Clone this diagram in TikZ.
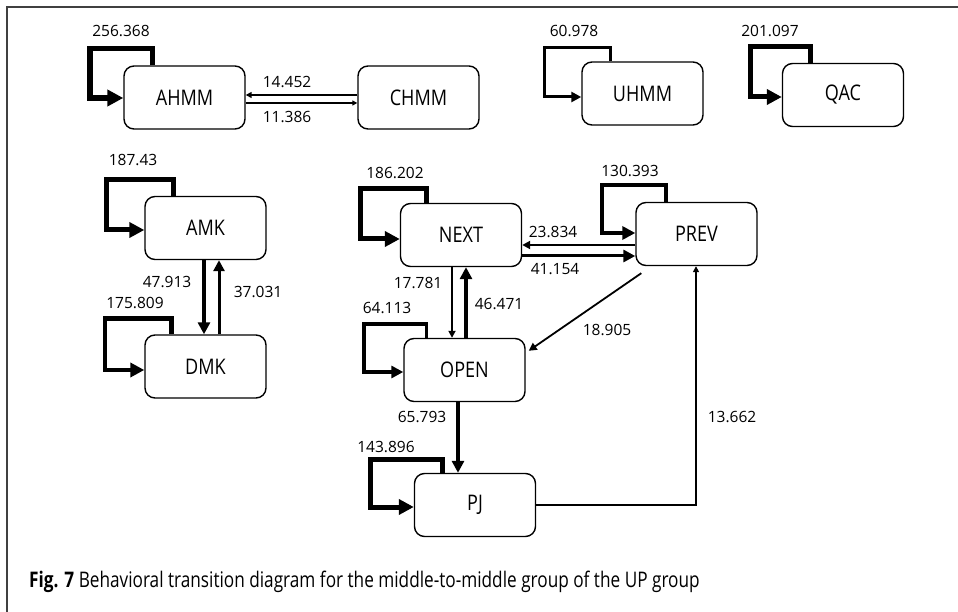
\documentclass[tikz,border=0pt]{standalone}
\usepackage{fontspec}
\setmainfont{Open Sans}
\newfontfamily\nodefont{Open Sans}[FakeStretch=0.84]
\newfontfamily\capfont{Open Sans}[FakeStretch=0.8]
\usetikzlibrary{arrows.meta}

\begin{document}
\begin{tikzpicture}[x=1pt,y=-1pt,
  state/.style={draw, rounded corners=10pt, line width=1.4pt,
    minimum width=121pt, minimum height=63pt, inner sep=0pt,
    font=\nodefont\fontsize{21.5}{25}\selectfont},
  num/.style={inner sep=0pt, font=\fontsize{15.5}{18}\selectfont},
  flow/.style 2 args={line width=#1, line join=miter,
    -{Triangle[length=#2, width=#2]}}]

\useasboundingbox (0,0) rectangle (958,612);

% frame
\draw[line width=1.3pt, black!75] (958,7) -- (7,7) -- (7,612);

% states
\node[state] (AHMM) at (184.5,97.5) {AHMM};
\node[state] (CHMM) at (418.5,97.5) {CHMM};
\node[state] (UHMM) at (642.5,93.5) {UHMM};
\node[state] (QAC)  at (843,95)     {QAC};
\node[state] (AMK)  at (205.5,228)  {AMK};
\node[state] (DMK)  at (205.5,366.5){DMK};
\node[state] (NEXT) at (461,235)    {NEXT};
\node[state] (PREV) at (696.5,234)  {PREV};
\node[state] (OPEN) at (464.5,370)  {OPEN};
\node[state] (PJ)   at (475,505)    {PJ};

% self transitions
\draw[flow={5.5pt}{16pt}] ([xshift=29pt]AHMM.north west) -- ++(0,-17) -| (90,98) -- (AHMM.west |- 0,98);
\draw[flow={3pt}{10pt}] ([xshift=29pt]UHMM.north west) -- ++(0,-14) -| (544,97) -- (UHMM.west |- 0,97);
\draw[flow={5pt}{15pt}] ([xshift=29pt]QAC.north west) -- ++(0,-16) -| (750,97) -- (QAC.west |- 0,97);
\draw[flow={5pt}{15pt}] ([xshift=29pt]AMK.north west) -- ++(0,-16) -| (106,230) -- (AMK.west |- 0,230);
\draw[flow={4.5pt}{14pt}] ([xshift=27pt]DMK.north west) -- ++(0,-16) -| (105,370) -- (DMK.west |- 0,370);
\draw[flow={5pt}{15pt}] ([xshift=27pt]NEXT.north west) -- ++(0,-14) -| (360,239) -- (NEXT.west |- 0,239);
\draw[flow={4pt}{13pt}] ([xshift=31pt]PREV.north west) -- ++(0,-17) -| (602,233) -- (PREV.west |- 0,233);
\draw[flow={3.5pt}{12pt}] ([xshift=23pt]OPEN.north west) -- ++(0,-14) -| (364,372) -- (OPEN.west |- 0,372);
\draw[flow={5pt}{15pt}] ([xshift=29pt]PJ.north west) -- ++(0,-13) -| (370,507) -- (PJ.west |- 0,507);

\node[num] (sAHMM) at (121,31)  {256.368};
\node[num] (sUHMM) at (574,31)  {60.978};
\node[num] (sQAC)  at (770,31)  {201.097};
\node[num] (sAMK)  at (133,160) {187.43};
\node[num] (sDMK)  at (135,303) {175.809};
\node[num] (sNEXT) at (395,173) {186.202};
\node[num] (sPREV) at (630,171) {130.393};
\node[num] (sOPEN) at (387,308) {64.113};
\node[num] (sPJ)   at (386,447) {143.896};

% transitions between states
\draw[flow={1.5pt}{6pt}] (CHMM.west |- 0,95) -- (AHMM.east |- 0,95);
\draw[flow={1.3pt}{5pt}] (AHMM.east |- 0,103) -- (CHMM.west |- 0,103);
\node[num] (tCA) at (287,82)  {14.452};
\node[num] (tAC) at (287,117) {11.386};

\draw[flow={3.5pt}{12pt}] (AMK.south -| 204,0) -- (DMK.north -| 204,0);
\draw[flow={3pt}{11pt}] (DMK.north -| 219,0) -- (AMK.south -| 219,0);
\node[num] (tAD) at (167,282) {47.913};
\node[num] (tDA) at (258,292) {37.031};

\draw[flow={2pt}{8pt}] (PREV.west |- 0,245) -- (NEXT.east |- 0,245);
\draw[flow={3pt}{12pt}] (NEXT.east |- 0,256) -- (PREV.west |- 0,256);
\node[num] (tPN) at (553,232) {23.834};
\node[num] (tNP) at (555,269) {41.154};

\draw[flow={1.8pt}{7pt}] (NEXT.south -| 452,0) -- (OPEN.north -| 452,0);
\draw[flow={3.5pt}{12pt}] (OPEN.north -| 466,0) -- (NEXT.south -| 466,0);
\node[num] (tNO) at (418,283) {17.781};
\node[num] (tON) at (499,304) {46.471};

\draw[flow={1.8pt}{8pt}] ([shift={(6,7)}]PREV.south west) -- ([shift={(3,13)}]OPEN.north east);
\node[num] (tPO) at (607,330) {18.905};

\draw[flow={3.5pt}{12pt}] (OPEN.south -| 458,0) -- (PJ.north -| 458,0);
\node[num] (tOJ) at (422,417) {65.793};

\draw[flow={1.5pt}{6pt}] (PJ.east) -| (PREV.south -| 696,0);
\node[num] (tJP) at (732,417) {13.662};

% caption
\node[anchor=base west, inner sep=0pt, font=\capfont\fontsize{21.5}{25}\selectfont] (cap) at (29,587)
  {\textbf{Fig. 7} Behavioral transition diagram for the middle-to-middle group of the UP group};
\end{tikzpicture}
\end{document}
